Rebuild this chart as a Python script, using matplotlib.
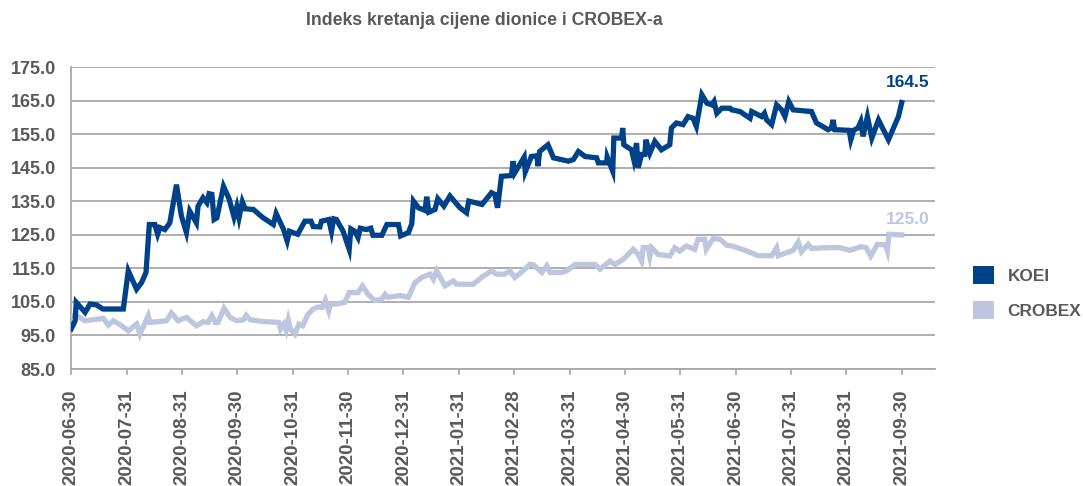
import matplotlib
matplotlib.use('Agg')
import matplotlib.pyplot as plt
from matplotlib.patches import Patch

plt.rcParams['font.family'] = ['Liberation Sans', 'DejaVu Sans']

# x os: mjeseci od 2020-06-30 (jednak razmak po mjesecu)
mjeseci = ['2020-06-30', '2020-07-31', '2020-08-31', '2020-09-30', '2020-10-31',
           '2020-11-30', '2020-12-31', '2021-01-31', '2021-02-28', '2021-03-31',
           '2021-04-30', '2021-05-31', '2021-06-30', '2021-07-31', '2021-08-31',
           '2021-09-30']

koei_t = [0.00, 0.07, 0.09, 0.25, 0.34, 0.46, 0.57, 0.94, 1.03, 1.18, 1.27, 1.35,
          1.41, 1.51, 1.56, 1.60, 1.69, 1.78, 1.90, 1.99, 2.08, 2.14, 2.26, 2.29,
          2.38, 2.45, 2.49, 2.54, 2.58, 2.63, 2.75, 2.85, 2.94, 2.99, 3.03, 3.09,
          3.14, 3.29, 3.45, 3.65, 3.70, 3.83, 3.90, 3.94, 4.09, 4.22, 4.33, 4.37,
          4.49, 4.52, 4.65, 4.70, 4.74, 4.79, 4.91, 5.02, 5.05, 5.12, 5.18, 5.22,
          5.33, 5.41, 5.45, 5.61, 5.70, 5.91, 5.95, 6.09, 6.15, 6.18, 6.27, 6.39,
          6.42, 6.46, 6.57, 6.62, 6.73, 6.84, 7.02, 7.14, 7.18, 7.42, 7.59, 7.65,
          7.70, 7.77, 7.95, 7.98, 8.01, 8.12, 8.18, 8.20, 8.31, 8.41, 8.43, 8.46,
          8.61, 8.71, 8.92, 8.98, 9.07, 9.16, 9.28, 9.49, 9.52, 9.67, 9.68, 9.78,
          9.80, 9.94, 9.96, 9.98, 10.12, 10.16, 10.21, 10.24, 10.30, 10.36, 10.38,
          10.45, 10.54, 10.66, 10.81, 10.84, 10.93, 11.05, 11.14, 11.23, 11.29,
          11.39, 11.48, 11.57, 11.61, 11.66, 11.75, 11.90, 11.93, 12.08, 12.26,
          12.29, 12.47, 12.52, 12.56, 12.65, 12.74, 12.83, 12.89, 12.96, 13.04,
          13.37, 13.46, 13.67, 13.73, 13.76, 13.79, 14.05, 14.08, 14.13, 14.21,
          14.26, 14.30, 14.38, 14.46, 14.58, 14.76, 14.94, 15.00]
koei = [97.0, 99.4, 104.9, 101.9, 104.4, 104.1, 102.9, 102.9, 114.3, 108.8, 110.8, 113.8,
        128.1, 128.1, 125.2, 127.2, 126.6, 128.6, 140.0, 130.6, 125.7, 132.1, 128.6, 133.6,
        136.1, 134.6, 137.3, 137.1, 129.6, 130.1, 139.5, 135.8, 130.3, 133.4, 130.1, 134.9,
        132.8, 132.6, 130.3, 128.1, 131.4, 126.8, 123.2, 126.1, 125.2, 129.1, 129.1, 127.5,
        127.4, 129.1, 129.6, 126.0, 129.8, 129.6, 126.1, 120.7, 126.8, 126.1, 124.2, 127.0,
        126.6, 127.0, 124.9, 124.9, 128.1, 128.1, 124.7, 125.7, 128.3, 135.1, 133.1, 132.3,
        136.4, 131.8, 132.6, 135.8, 133.6, 136.6, 133.1, 131.6, 135.1, 134.1, 137.6, 137.1,
        133.1, 142.5, 142.7, 147.0, 143.5, 146.5, 148.2, 143.8, 148.4, 148.6, 145.5, 149.9,
        151.9, 148.0, 147.2, 147.0, 147.5, 149.9, 148.4, 148.0, 146.5, 146.5, 148.3, 144.0,
        153.9, 153.9, 156.9, 151.9, 150.4, 147.5, 152.4, 145.0, 149.0, 149.0, 153.4,
        149.4, 152.9, 150.4, 151.9, 156.9, 158.4, 157.9, 160.3, 159.8, 157.4,
        166.8, 164.3, 163.8, 164.8, 161.3, 162.8, 162.8, 162.3, 161.8, 159.8,
        161.8, 160.3, 161.3, 159.3, 157.9, 163.8, 162.3, 160.3, 164.8, 162.3,
        161.8, 158.4, 156.4, 156.9, 159.3, 156.4, 156.2, 153.4, 156.2, 156.9,
        158.8, 154.4, 160.3, 153.9, 159.3, 153.4, 160.3, 164.5]

crobex_t = [0.00, 0.10, 0.25, 0.58, 0.67, 0.76, 0.91, 1.03, 1.18, 1.24, 1.39, 1.42,
            1.72, 1.81, 1.93, 2.08, 2.26, 2.38, 2.47, 2.54, 2.60, 2.65, 2.76, 2.87,
            2.99, 3.11, 3.16, 3.23, 3.44, 3.75, 3.78, 3.84, 3.88, 3.92, 3.96, 4.04,
            4.11, 4.18, 4.27, 4.37, 4.46, 4.53, 4.59, 4.65, 4.68, 4.79, 4.94, 5.02,
            5.18, 5.26, 5.36, 5.48, 5.61, 5.67, 5.72, 5.94, 6.09, 6.21, 6.33, 6.48,
            6.54, 6.60, 6.75, 6.90, 6.96, 7.26, 7.41, 7.59, 7.68, 7.83, 7.92, 8.01,
            8.16, 8.28, 8.34, 8.50, 8.59, 8.65, 8.86, 8.95, 9.10, 9.46, 9.55, 9.73,
            9.82, 9.97, 10.15, 10.24, 10.30, 10.33, 10.42, 10.45, 10.48, 10.60, 10.81,
            10.90, 10.99, 11.11, 11.26, 11.32, 11.44, 11.47, 11.59, 11.72, 11.84,
            11.93, 12.17, 12.41, 12.65, 12.74, 12.77, 13.04, 13.13, 13.19, 13.31,
            13.37, 13.70, 13.88, 14.06, 14.27, 14.36, 14.44, 14.56, 14.71, 14.74,
            14.77, 15.00]
crobex = [100.9, 100.9, 99.4, 100.1, 98.1, 99.4, 97.9, 96.4, 98.4, 95.4, 100.9, 98.9,
          99.4, 101.7, 99.4, 100.4, 97.9, 99.1, 98.9, 100.9, 98.9, 98.9, 103.1, 100.4,
          99.4, 99.7, 101.0, 99.7, 99.2, 98.9, 96.9, 98.4, 96.6, 99.6, 96.9, 95.4,
          98.4, 97.9, 101.2, 102.9, 103.5, 103.4, 105.5, 102.4, 104.4, 104.4, 104.9, 107.8,
          107.8, 109.8, 107.3, 105.4, 105.9, 107.3, 106.4, 106.9, 106.4, 110.8, 112.3, 113.3,
          111.8, 114.3, 109.8, 111.3, 110.3, 110.3, 112.3, 114.3, 113.3, 113.3, 114.3, 112.3,
          114.3, 116.2, 116.2, 113.8, 115.8, 113.8, 113.8, 114.3, 116.2, 116.2, 114.8, 117.2,
          116.2, 117.7, 120.7, 119.2, 117.2, 121.2, 121.2, 118.7, 121.2, 119.2, 118.7,
          121.2, 120.2, 121.7, 120.7, 123.7, 123.7, 120.7, 123.9, 123.7, 121.9,
          121.7, 120.4, 118.8, 118.8, 121.2, 118.8, 120.4, 122.9, 120.0, 122.2,
          121.0, 121.2, 121.2, 120.4, 121.5, 121.2, 118.7, 122.2, 122.0, 120.4,
          125.2, 125.0]

plava = '#00428a'
svijetla = '#bec6df'
siva_txt = '#595959'

fig = plt.figure(figsize=(10.83, 4.86), dpi=100)
ax = fig.add_axes([0.0658, 0.2407, 0.7975, 0.6208])

ax.plot(crobex_t, crobex, color=svijetla, lw=3.8, solid_joinstyle='miter', zorder=3)
ax.plot(koei_t, koei, color=plava, lw=3.8, solid_joinstyle='miter', zorder=4)

ax.annotate(f'{koei[-1]:.1f}', xy=(koei_t[-1], koei[-1]), xytext=(4, 9),
            textcoords='offset points', ha='center', va='bottom',
            color=plava, fontsize=12.5, fontweight='bold')
ax.annotate(f'{crobex[-1]:.1f}', xy=(crobex_t[-1], crobex[-1]), xytext=(4, 6),
            textcoords='offset points', ha='center', va='bottom',
            color=svijetla, fontsize=12.5, fontweight='bold')

ax.set_xlim(0, 15.6)
ax.set_ylim(85, 175)
ax.set_yticks(range(85, 176, 10))
ax.set_yticklabels([f'{v:.1f}' for v in range(85, 176, 10)])
ax.set_xticks(range(len(mjeseci)))
ax.set_xticklabels(mjeseci, rotation=90)

ax.yaxis.grid(True, color='#a8a8a8', lw=1.3)
ax.set_axisbelow(True)
for s in ['top', 'right']:
    ax.spines[s].set_visible(False)
for s in ['left', 'bottom']:
    ax.spines[s].set_color('#a8a8a8')
    ax.spines[s].set_linewidth(1.3)

ax.tick_params(axis='y', length=0, pad=11, labelsize=13, labelcolor=siva_txt)
ax.tick_params(axis='x', length=4, width=1.2, color='#a8a8a8', pad=11,
               labelsize=13.5, labelcolor=siva_txt)
for lbl in ax.get_yticklabels() + ax.get_xticklabels():
    lbl.set_fontweight('bold')

fig.text(0.447, 0.958, 'Indeks kretanja cijene dionice i CROBEX-a', ha='center',
         va='center', fontsize=12.7, fontweight='bold', color=siva_txt)

ruke = [Patch(facecolor=plava, label='KOEI'), Patch(facecolor=svijetla, label='CROBEX')]
leg = fig.legend(handles=ruke, loc='upper left', bbox_to_anchor=(0.8984, 0.452),
                 frameon=False, borderpad=0, borderaxespad=0, handlelength=1.2,
                 handleheight=1.2, handletextpad=0.8, labelspacing=1.0,
                 prop={'size': 12.4, 'weight': 'bold'})
for t in leg.get_texts():
    t.set_color(siva_txt)

fig.savefig('out.png', dpi=100)
